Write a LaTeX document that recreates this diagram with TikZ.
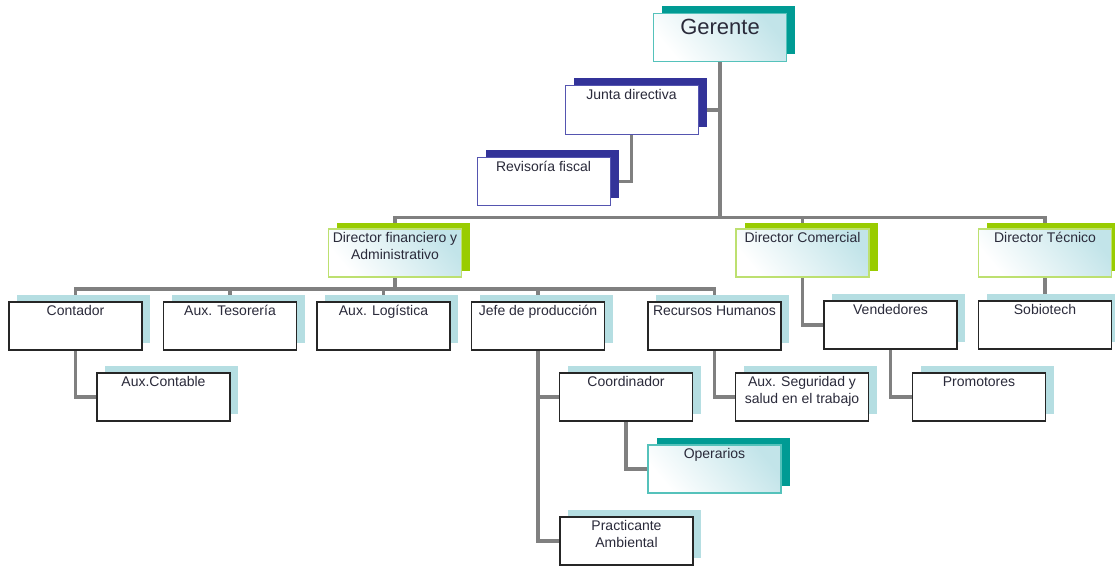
\documentclass[tikz,border=0pt]{standalone}
\usepackage{fontspec}
\setmainfont{Liberation Sans}
\usetikzlibrary{shadows,backgrounds}

\definecolor{tealdark}{HTML}{009B94}
\definecolor{tealline}{HTML}{55C2BB}
\definecolor{tealfill}{HTML}{C2E4E9}
\definecolor{navy}{HTML}{333399}
\definecolor{navyline}{HTML}{5555B0}
\definecolor{lime}{HTML}{99CC00}
\definecolor{limeline}{HTML}{BDE070}
\definecolor{paleblue}{HTML}{B5DEE2}
\definecolor{linkgray}{HTML}{808080}
\definecolor{txt}{HTML}{2A2A3A}

\begin{document}
\begin{tikzpicture}[
  x=1pt, y=-1pt,
  org/.style={rectangle, minimum width=133pt, minimum height=48pt, inner sep=0pt},
  boxshade/.style={bottom color=white, top color=tealfill, shading angle=-50},
  tealbox/.style={org, boxshade, draw=tealline, line width=1.2pt,
    general shadow={shadow xshift=8.5pt, shadow yshift=7pt, fill=tealdark, draw=none}},
  navybox/.style={org, fill=white, draw=navyline, line width=1pt,
    general shadow={shadow xshift=8.5pt, shadow yshift=7.5pt, fill=navy, draw=none}},
  limebox/.style={org, boxshade, draw=limeline, line width=1.3pt,
    general shadow={shadow xshift=8.5pt, shadow yshift=6pt, fill=lime, draw=none}},
  cargo/.style={org, fill=white, draw=black!85, line width=1.3pt,
    general shadow={shadow xshift=8pt, shadow yshift=7pt, fill=paleblue, draw=none}},
  tag/.style={anchor=north, inner sep=4pt, align=center, text=txt,
    font=\fontsize{14}{17}\selectfont},
  bigtag/.style={tag, inner sep=6.5pt, font=\fontsize{22}{26}\selectfont},
  link/.style={draw=linkgray, line width=3.5pt}
]
  \useasboundingbox (0,0) rectangle (1115,567);

  % cabeza
  \node[tealbox, label={[bigtag]north:Gerente}] (gerente) at (720,37.5) {};
  \node[navybox, label={[tag]north:Junta directiva}] (junta) at (631.5,110) {};
  \node[navybox, label={[tag]north:Revisoría fiscal}] (revisoria) at (543.5,181.5) {};

  % directores
  \node[limebox, label={[tag]north:Director financiero y\\Administrativo}] (fin) at (395,253) {};
  \node[limebox, label={[tag]north:Director Comercial}] (comercial) at (802.5,253) {};
  \node[limebox, label={[tag]north:Director Técnico}] (tecnico) at (1045,253) {};

  % cargos
  \node[cargo, label={[tag]north:Contador}] (contador) at (75.5,326) {};
  \node[cargo, label={[tag]north:Aux. Tesorería}] (tesoreria) at (230,326) {};
  \node[cargo, label={[tag]north:Aux. Logística}] (logistica) at (383.5,326) {};
  \node[cargo, label={[tag]north:Jefe de producción}] (jefe) at (538,326) {};
  \node[cargo, label={[tag]north:Recursos Humanos}] (rh) at (714.5,326) {};
  \node[cargo, label={[tag]north:Vendedores}] (vendedores) at (890.5,325) {};
  \node[cargo, label={[tag]north:Sobiotech}] (sobiotech) at (1045,325) {};

  \node[cargo, label={[tag]north:Aux.Contable}] (auxcontable) at (163.5,397) {};
  \node[cargo, label={[tag]north:Coordinador}] (coordinador) at (626,397) {};
  \node[cargo, label={[tag]north:Aux. Seguridad y\\salud en el trabajo}] (auxseg) at (802,397) {};
  \node[cargo, label={[tag]north:Promotores}] (promotores) at (979,397) {};
  \node[tealbox, label={[tag]north:Operarios}] (operarios) at (714.5,469) {};
  \node[cargo, label={[tag]north:Practicante\\Ambiental}] (practicante) at (626.5,541) {};

  \coordinate (bus1) at (0,217.5);
  \coordinate (bus2) at (0,289);

  \begin{scope}[on background layer]
    \draw[link] (gerente.south) -- (gerente.south |- bus1);
    \draw[link] (junta.east) -- (junta.east -| gerente.south);
    \draw[link] (junta.south) |- (revisoria.east);
    \draw[link] (fin.north) -- (fin.north |- bus1) -- (tecnico.north |- bus1) -- (tecnico.north);
    \draw[link] (comercial.north) -- (comercial.north |- bus1);
    \draw[link] (fin.south) -- (fin.south |- bus2);
    \draw[link] (contador.north) -- (contador.north |- bus2) -- (rh.north |- bus2) -- (rh.north);
    \foreach \n in {tesoreria,logistica,jefe}
      \draw[link] (\n.north) -- (\n.north |- bus2);
    \draw[link] (contador.south) |- (auxcontable.west);
    \draw[link] (jefe.south) |- (practicante.west);
    \draw[link] (jefe.south |- coordinador.west) -- (coordinador.west);
    \draw[link] (coordinador.south) |- (operarios.west);
    \draw[link] (rh.south) |- (auxseg.west);
    \draw[link] (comercial.south) |- (vendedores.west);
    \draw[link] (tecnico.south) -- (sobiotech.north);
    \draw[link] (vendedores.south) |- (promotores.west);
  \end{scope}
\end{tikzpicture}
\end{document}
